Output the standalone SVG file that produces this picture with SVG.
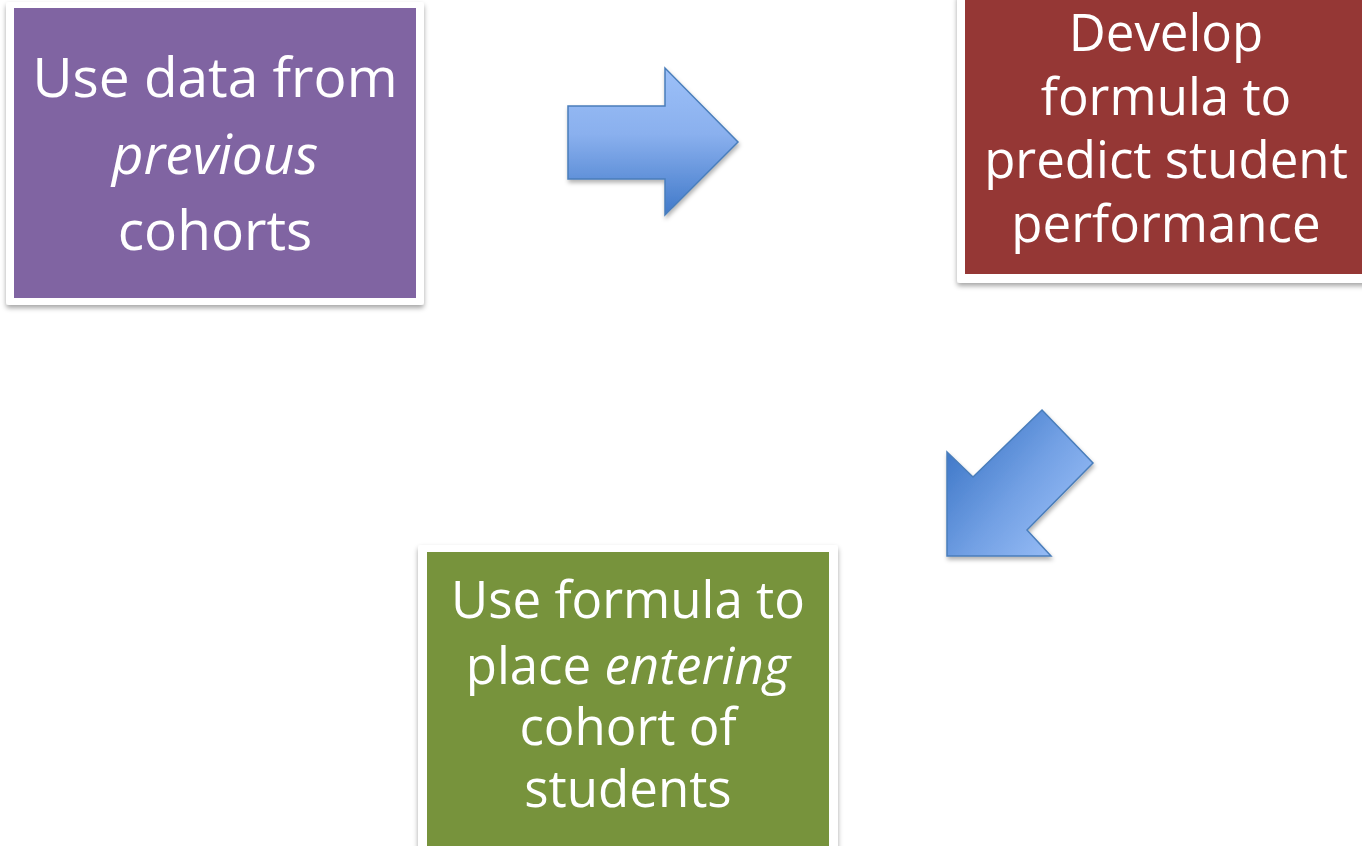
<svg xmlns="http://www.w3.org/2000/svg" width="1362" height="846" viewBox="0 0 1362 846">
<defs>
<style>
.frame{fill:#fff;filter:url(#sh)}
.t{font-family:"Open Sans","Liberation Sans",sans-serif;font-size:51px;fill:#fff;text-anchor:middle}
.big{font-size:55px}
.arrow{stroke:#4a7ebb;stroke-width:1.5;filter:url(#sh2)}
</style>
<filter id="sh" x="-10%" y="-10%" width="120%" height="125%">
<feDropShadow dx="0" dy="3" stdDeviation="2.5" flood-color="#000" flood-opacity="0.35"/>
</filter>
<filter id="sh2" x="-10%" y="-10%" width="125%" height="130%">
<feDropShadow dx="1" dy="3" stdDeviation="2" flood-color="#000" flood-opacity="0.3"/>
</filter>
<linearGradient id="gR" x1="0" y1="0" x2="0" y2="1">
<stop offset="0" stop-color="#9cc0f8"/>
<stop offset="0.45" stop-color="#8ab0ee"/>
<stop offset="1" stop-color="#4079c9"/>
</linearGradient>
<linearGradient id="gD" gradientUnits="userSpaceOnUse" x1="1080" y1="540" x2="955" y2="440">
<stop offset="0" stop-color="#9cc0f8"/>
<stop offset="0.5" stop-color="#72a0e4"/>
<stop offset="1" stop-color="#3f78c8"/>
</linearGradient>
</defs>
<g id="node-previous">
<rect class="frame" x="6" y="2" width="418" height="303" rx="3"/>
<rect x="14" y="8" width="402" height="290" fill="#8064a2"/>
<text class="t big"><tspan x="215" y="97">Use data from</tspan><tspan x="215" y="174" font-style="italic">previous</tspan><tspan x="215" y="250">cohorts</tspan></text>
</g>
<g id="node-develop">
<rect class="frame" x="957" y="-6" width="412" height="289" rx="3"/>
<rect x="965" y="-6" width="400" height="280" fill="#953735"/>
<text class="t"><tspan x="1166" y="51">Develop</tspan><tspan x="1166" y="115">formula to</tspan><tspan x="1166" y="178">predict student</tspan><tspan x="1166" y="242">performance</tspan></text>
</g>
<g id="node-use">
<rect class="frame" x="418" y="545" width="420" height="310" rx="3"/>
<rect x="427" y="552" width="402" height="300" fill="#77933c"/>
<text class="t"><tspan x="628" y="618">Use formula to</tspan><tspan x="628" y="684">place <tspan font-style="italic">entering</tspan></tspan><tspan x="628" y="745">cohort of</tspan><tspan x="628" y="807">students</tspan></text>
</g>
<g id="connectors">
<path class="arrow" fill="url(#gR)" d="M568,106 L665,106 L665,68 L738,142 L665,215 L665,179 L568,179 Z"/>
<path class="arrow" fill="url(#gD)" d="M1042,410 L1093,463 L1027,530 L1051,556 L947,556 L947,452 L973,477 Z"/>
</g>
</svg>
